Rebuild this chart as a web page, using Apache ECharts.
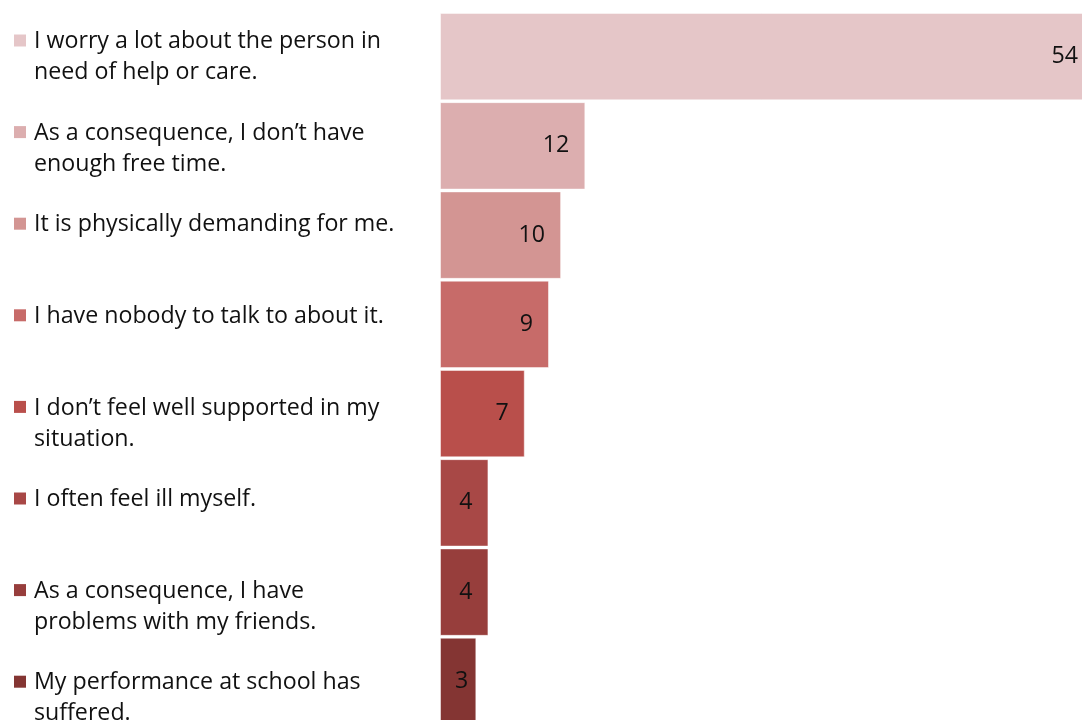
<!DOCTYPE html>
<html>
<head>
<meta charset="utf-8">
<script src="https://cdn.jsdelivr.net/npm/echarts@6/dist/echarts.min.js"></script>
<style>
  html, body { margin: 0; padding: 0; background: #ffffff; }
  #chart { width: 1082px; height: 720px; }
</style>
</head>
<body>
<div id="chart"></div>
<script>
// Reasons given by young carers, share of respondents (%)
const categories = [
  'I worry a lot about the person in\nneed of help or care.',
  'As a consequence, I don\u2019t have\nenough free time.',
  'It is physically demanding for me.',
  'I have nobody to talk to about it.',
  'I don\u2019t feel well supported in my\nsituation.',
  'I often feel ill myself.',
  'As a consequence, I have\nproblems with my friends.',
  'My performance at school has\nsuffered.'
];
const values = [54, 12, 10, 9, 7, 4, 4, 3];
const colors = ['#E5C6C8', '#DCAEAF', '#D39593', '#C76B69', '#B94F4B', '#A84846', '#973E3C', '#843533'];

const FONT = '"Open Sans", "Noto Sans", sans-serif';
const FONT_SIZE = 23.2;

// Legend column on the left: square swatch aligned with the first text line
const legendTop = 41.5;    // centre of the first line of the first entry
const legendStep = 91.6;   // distance between entries
const lineH = 31;
const legendGraphics = [];
categories.forEach((name, i) => {
  const cy = legendTop + i * legendStep;
  legendGraphics.push({
    type: 'rect',
    left: 14, top: cy - 7,
    shape: { width: 12, height: 12 },
    style: { fill: colors[i] }
  });
  legendGraphics.push({
    type: 'text',
    left: 34, top: cy - lineH / 2,
    style: {
      text: name,
      font: FONT_SIZE + 'px ' + FONT,
      fill: '#111111',
      lineHeight: lineH
    }
  });
});

const chart = echarts.init(document.getElementById('chart'));
chart.setOption({
  animation: false,
  backgroundColor: '#ffffff',
  // plot area runs a little past the canvas on the right and bottom
  grid: {
    left: 440, top: 12, width: 654, height: 714,
    containLabel: false,
    outerBoundsMode: 'none'
  },
  xAxis: {
    type: 'value', min: 0, max: 54,
    show: false
  },
  yAxis: {
    type: 'category',
    data: categories,
    inverse: true,
    show: false
  },
  graphic: legendGraphics,
  series: [{
    type: 'bar',
    clip: false,
    barCategoryGap: '2%',
    data: values.map((v, i) => ({
      value: v,
      itemStyle: { color: colors[i] },
      label: v < 4 ? { distance: 8 } : undefined
    })),
    itemStyle: { borderColor: 'rgba(255,255,255,0.5)', borderWidth: 1 },
    label: {
      show: true,
      position: 'insideRight',
      distance: 16,
      color: '#111111',
      fontFamily: FONT,
      fontSize: FONT_SIZE
    }
  }]
});
</script>
</body>
</html>
